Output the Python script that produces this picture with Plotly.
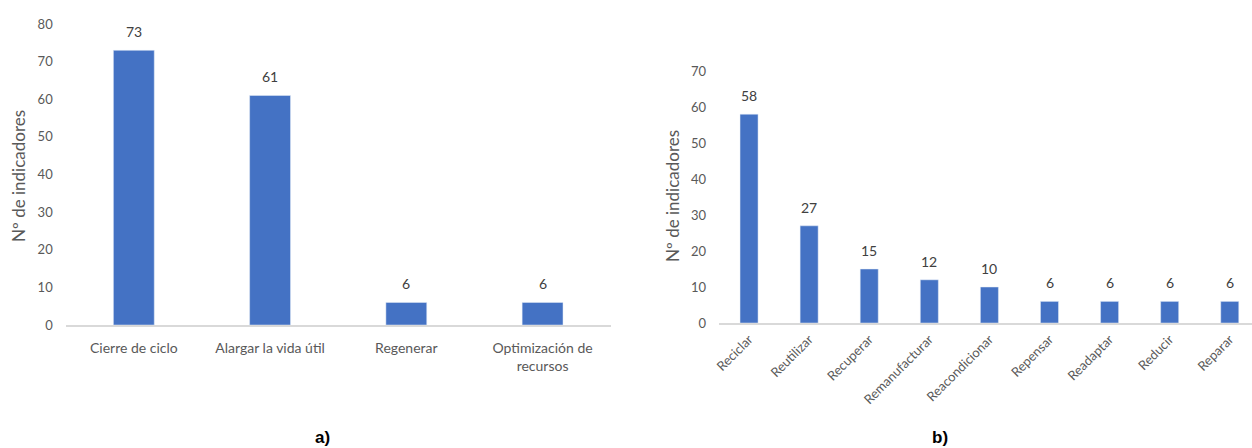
import plotly.graph_objects as go

cats_a = ["Cierre de ciclo", "Alargar la vida útil", "Regenerar", "Optimización de recursos"]
ticks_a = ["Cierre de ciclo", "Alargar la vida útil", "Regenerar", "Optimización de<br>recursos"]
vals_a = [73, 61, 6, 6]

cats_b = ["Reciclar", "Reutilizar", "Recuperar", "Remanufacturar", "Reacondicionar",
          "Repensar", "Readaptar", "Reducir", "Reparar"]
vals_b = [58, 27, 15, 12, 10, 6, 6, 6, 6]

ytitle = "Nº de indicadores"
BAR = "#4472C4"
TXT = "#595959"
FONT = "Lato, Open Sans, sans-serif"
W, H = 1252, 448

fig = go.Figure()
fig.add_trace(go.Bar(x=cats_a, y=vals_a, marker_color=BAR, width=0.3,
                     xaxis="x", yaxis="y", hoverinfo="x+y"))
fig.add_trace(go.Bar(x=cats_b, y=vals_b, marker_color=BAR, width=0.3,
                     xaxis="x2", yaxis="y2", hoverinfo="x+y"))

ann = []
for c, v in zip(cats_a, vals_a):
    ann.append(dict(x=c, y=v, xref="x", yref="y", text=str(v), showarrow=False,
                    yanchor="bottom", yshift=8, font=dict(size=14, color="#404040", family=FONT)))
for c, v in zip(cats_b, vals_b):
    ann.append(dict(x=c, y=v, xref="x2", yref="y2", text=str(v), showarrow=False,
                    yanchor="bottom", yshift=8, font=dict(size=14, color="#404040", family=FONT)))

ann.append(dict(x=19 / W, y=1 - 176 / H, xref="paper", yref="paper", text=ytitle,
                textangle=-90, showarrow=False, xanchor="center", yanchor="middle",
                font=dict(size=17, color=TXT, family=FONT)))
ann.append(dict(x=672 / W, y=1 - 196 / H, xref="paper", yref="paper", text=ytitle,
                textangle=-90, showarrow=False, xanchor="center", yanchor="middle",
                font=dict(size=17, color=TXT, family=FONT)))
ann.append(dict(x=322 / W, y=1 - 437 / H, xref="paper", yref="paper", text="<b>a)</b>",
                showarrow=False, xanchor="center", yanchor="middle",
                font=dict(size=17, color="black", family="Liberation Sans, Arial")))
ann.append(dict(x=940 / W, y=1 - 437 / H, xref="paper", yref="paper", text="<b>b)</b>",
                showarrow=False, xanchor="center", yanchor="middle",
                font=dict(size=17, color="black", family="Liberation Sans, Arial")))

axis_common = dict(showgrid=False, zeroline=False, ticks="", automargin=False)
tf = dict(size=13, color=TXT, family=FONT)

fig.update_layout(
    width=W, height=H,
    margin=dict(l=0, r=0, t=0, b=0, pad=0, autoexpand=False),
    paper_bgcolor="white", plot_bgcolor="white",
    showlegend=False,
    annotations=ann,
    xaxis=dict(domain=[65.7 / W, 610.7 / W], anchor="y", showline=True, linecolor="#d9d9d9",
               linewidth=1.5, tickvals=cats_a, ticktext=ticks_a, tickangle=0,
               range=[-0.5, 3.5], ticklabelstandoff=9, tickfont=dict(size=14, color=TXT, family=FONT),
               **axis_common),
    yaxis=dict(domain=[1 - 325 / H, 1 - 24 / H], anchor="x", range=[0, 80], dtick=10,
               showline=False, ticklabelstandoff=12, tickfont=tf, **axis_common),
    xaxis2=dict(domain=[719 / W, 1.0], anchor="y2", showline=True, linecolor="#d9d9d9",
                linewidth=1.5, tickangle=-45, range=[-0.5, 8.37], ticklabelstandoff=2,
                tickfont=tf, **axis_common),
    yaxis2=dict(domain=[1 - 323 / H, 1 - 71 / H], anchor="x2", range=[0, 70], dtick=10,
                showline=False, ticklabelstandoff=12, tickfont=tf, **axis_common),
)

fig.write_html("out.html")
